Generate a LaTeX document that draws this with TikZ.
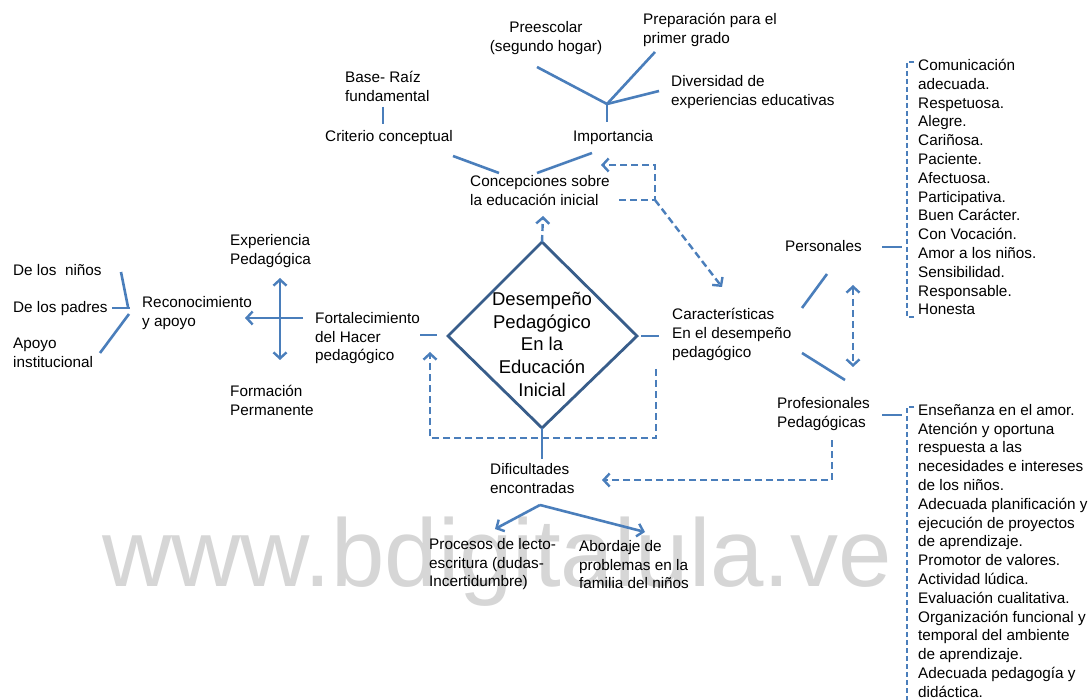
\documentclass[tikz,border=0pt]{standalone}
\usepackage{fontspec}
\setmainfont{Liberation Sans}
\usetikzlibrary{arrows.meta}
\definecolor{lnk}{RGB}{74,126,187}
\definecolor{dia}{RGB}{56,93,138}
\definecolor{wmark}{RGB}{214,214,214}

\begin{document}
\begin{tikzpicture}[x=1pt,y=-1pt,
  txt/.style={inner sep=0pt, anchor=north west, align=left,
              font=\fontsize{15.3}{18.8}\selectfont},
  ctxt/.style={txt, anchor=north, align=center},
  conn/.style={draw=lnk, line width=2.6pt},
  dconn/.style={draw=lnk, line width=2.4pt, dash pattern=on 7pt off 4pt},
  brk/.style={draw=lnk, line width=1.6pt, dash pattern=on 5pt off 3pt},
  tip/.style={-{Straight Barb[length=6pt,width=13pt,line width=2.4pt]}},
  tips/.style={{Straight Barb[length=6pt,width=13pt,line width=2.4pt]}-{Straight Barb[length=6pt,width=13pt,line width=2.4pt]}}
]
\useasboundingbox (0,0) rectangle (1092,700);
\fill[white] (0,0) rectangle (1092,700);

% watermark behind everything
\node[inner sep=0pt, anchor=base west, text=wmark,
      font=\fontsize{96}{96}\selectfont] (wm) at (102,586) {www.bdigitalula.ve};

% ---------- central diamond ----------
\coordinate (dT) at (542,242);
\coordinate (dR) at (637,336);
\coordinate (dB) at (542,428);
\coordinate (dL) at (448,336);
\draw[draw=dia, line width=2.8pt, line join=miter] (dT) -- (dR) -- (dB) -- (dL) -- cycle;
\node[inner sep=0pt, anchor=north, align=center,
      font=\fontsize{18.5}{22.7}\selectfont] (core) at (542,292)
  {Desempeño\\Pedagógico\\En la\\Educación\\Inicial};

% ---------- upper branch ----------
\node[ctxt] (pre) at (546,21) {Preescolar\\(segundo hogar)};
\node[txt] (prep) at (643,13) {Preparación para el\\primer grado};
\node[txt] (div) at (671,75) {Diversidad de\\experiencias educativas};
\node[txt] (base) at (345,71) {Base- Raíz\\fundamental};
\node[txt] (crit) at (325,130) {Criterio conceptual};
\node[txt] (imp) at (573,130) {Importancia};
\node[txt] (conc) at (470,175) {Concepciones sobre\\la educación inicial};

\coordinate (bA) at (383,107);
\coordinate (bB) at (383,124);
\draw[conn] (bA) -- (bB);

\coordinate (iS) at (607,122);
\coordinate (iJ) at (607,104);
\coordinate (iP) at (537,67);
\coordinate (iG) at (655,52);
\coordinate (iD) at (659,91);
\draw[conn] (iS) -- (iJ);
\draw[conn] (iJ) -- (iP);
\draw[conn] (iJ) -- (iG);
\draw[conn] (iJ) -- (iD);

\coordinate (cA) at (453,156);
\coordinate (cB) at (499,173);
\draw[conn] (cA) -- (cB);
\coordinate (mA) at (592,153);
\coordinate (mB) at (537,173);
\draw[conn] (mA) -- (mB);

% dashed links around the conceptions node
\coordinate (tA) at (543,216);
\draw[dconn, tip] (dT) -- (tA);
\coordinate (kA) at (619,200);
\coordinate (kB) at (655,200);
\coordinate (kC) at (655,165);
\coordinate (kD) at (601,165);
\coordinate (kE) at (722,287);
\draw[dconn, tip] (kA) -- (kB) -- (kC) -- (kD);
\draw[dconn, tip] (kB) -- (kE);

% ---------- right branch ----------
\node[txt] (car) at (672,308) {Características\\En el desempeño\\pedagógico};
\node[txt] (pers) at (785,240) {Personales};
\node[txt] (prof) at (777,397) {Profesionales\\Pedagógicas};

\coordinate (rA) at (641,336);
\coordinate (rB) at (659,336);
\draw[conn] (rA) -- (rB);
\coordinate (pA) at (802,308);
\coordinate (pB) at (827,274);
\draw[conn] (pA) -- (pB);
\coordinate (qA) at (802,353);
\coordinate (qB) at (845,380);
\draw[conn] (qA) -- (qB);
\coordinate (uA) at (853,285);
\coordinate (uB) at (853,367);
\draw[dconn, tips] (uA) -- (uB);

\coordinate (lA) at (882,247);
\coordinate (lB) at (902,247);
\draw[conn] (lA) -- (lB);
\coordinate (lC) at (882,415);
\coordinate (lD) at (902,415);
\draw[conn] (lC) -- (lD);

\draw[brk] (914,62) -- (907,62) -- (907,317) -- (915,317);
\draw[brk] (914,407) -- (907,407) -- (907,702);

\node[txt] (plist) at (918,59)
  {Comunicación\\adecuada.\\Respetuosa.\\Alegre.\\Cariñosa.\\Paciente.\\Afectuosa.\\Participativa.\\Buen Carácter.\\Con Vocación.\\Amor a los niños.\\Sensibilidad.\\Responsable.\\Honesta};
\node[txt] (flist) at (918,404)
  {Enseñanza en el amor.\\Atención y oportuna\\respuesta a las\\necesidades e intereses\\de los niños.\\Adecuada planificación y\\ejecución de proyectos\\de aprendizaje.\\Promotor de valores.\\Actividad lúdica.\\Evaluación cualitativa.\\Organización funcional y\\temporal del ambiente\\de aprendizaje.\\Adecuada pedagogía y\\didáctica.};

% ---------- left branch ----------
\node[txt] (exp) at (230,234) {Experiencia\\Pedagógica};
\node[txt] (form) at (230,385) {Formación\\Permanente};
\node[txt] (rec) at (142,296) {Reconocimiento\\y apoyo};
\node[txt] (fort) at (315,312) {Fortalecimiento\\del Hacer\\pedagógico};
\node[txt] (ninos) at (13,264) {De los \ niños};
\node[txt] (padres) at (13,301) {De los padres};
\node[txt] (apoyo) at (13,338) {Apoyo\\institucional};

\coordinate (eA) at (420,335);
\coordinate (eB) at (437,335);
\draw[conn] (eA) -- (eB);
\coordinate (hA) at (303,318);
\coordinate (hB) at (245,318);
\draw[conn, tip] (hA) -- (hB);
\coordinate (vA) at (280,278);
\coordinate (vB) at (280,360);
\draw[conn, tips] (vA) -- (vB);

\coordinate (nA) at (121,272);
\coordinate (nB) at (128,307);
\draw[conn] (nA) -- (nB);
\coordinate (oA) at (112,308);
\coordinate (oB) at (130,308);
\draw[conn] (oA) -- (oB);
\coordinate (sA) at (129,314);
\coordinate (sB) at (100,353);
\draw[conn] (sA) -- (sB);

% dashed feedback loop under the diamond
\coordinate (fA) at (656,369);
\coordinate (fB) at (656,438);
\coordinate (fC) at (430,438);
\coordinate (fD) at (430,352);
\draw[dconn, tip] (fA) -- (fB) -- (fC) -- (fD);

% ---------- lower branch ----------
\node[txt] (dif) at (490,463) {Dificultades\\encontradas};
\node[txt] (proc) at (429,538) {Procesos de lecto-\\escritura (dudas-\\Incertidumbre)};
\node[txt] (abor) at (579,540) {Abordaje de\\problemas en la\\familia del niños};

\coordinate (gA) at (542,459);
\draw[conn] (dB) -- (gA);
\coordinate (wA) at (832,440);
\coordinate (wB) at (832,480);
\coordinate (wC) at (602,480);
\draw[dconn, tip] (wA) -- (wB) -- (wC);

\coordinate (xJ) at (540,505);
\coordinate (xL) at (495,529);
\coordinate (xR) at (645,532);
\draw[conn, tip] (xJ) -- (xL);
\draw[conn, tip] (xJ) -- (xR);
\end{tikzpicture}
\end{document}
